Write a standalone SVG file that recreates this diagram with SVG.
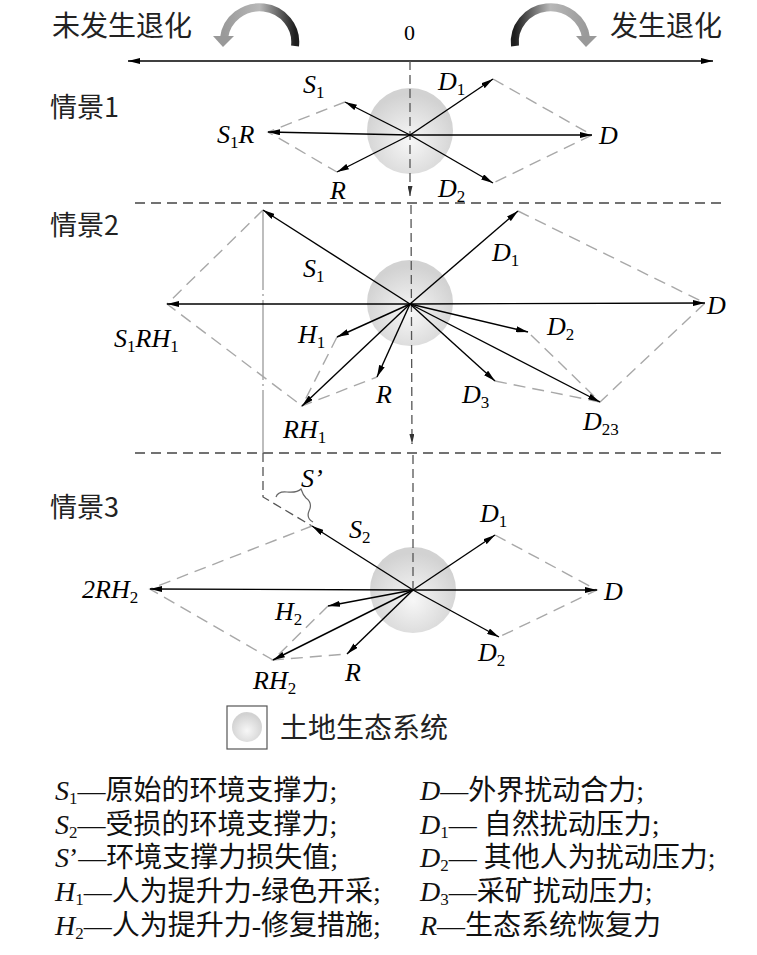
<svg xmlns="http://www.w3.org/2000/svg" width="757" height="955" viewBox="0 0 757 955">
<defs>
<marker id="ah" viewBox="0 0 12 6" refX="12" refY="3" markerWidth="12" markerHeight="6" markerUnits="userSpaceOnUse" orient="auto-start-reverse">
<path d="M0,0 L12,3 L0,6 z" fill="#000"/>
</marker>
<marker id="ahg" viewBox="0 0 12 6" refX="12" refY="3" markerWidth="10" markerHeight="5" markerUnits="userSpaceOnUse" orient="auto">
<path d="M0,0 L12,3 L0,6 z" fill="#333"/>
</marker>
<radialGradient id="ball" cx="50%" cy="62%" r="55%">
<stop offset="0" stop-color="#f7f7f7"/>
<stop offset="1" stop-color="#d2d2d2"/>
</radialGradient>
<linearGradient id="gl" x1="0" y1="0" x2="1" y2="0">
<stop offset="0" stop-color="#9a9a9a"/>
<stop offset="0.5" stop-color="#b8b8b8"/>
<stop offset="1" stop-color="#1e1e1e"/>
</linearGradient>
<linearGradient id="gr" x1="0" y1="0" x2="1" y2="0">
<stop offset="0" stop-color="#1e1e1e"/>
<stop offset="0.5" stop-color="#b8b8b8"/>
<stop offset="1" stop-color="#9a9a9a"/>
</linearGradient>
</defs>
<style>
.v{stroke:#000;stroke-width:1.4;fill:none;marker-end:url(#ah)}
.g{stroke:#a8a8a8;stroke-width:1.4;fill:none;stroke-dasharray:12 7}
.sec{stroke:#444;stroke-width:1.3;fill:none;stroke-dasharray:10 6}
.vd{stroke:#555;stroke-width:1.3;fill:none;stroke-dasharray:9 5}
.cjk{font-family:"Noto Sans CJK SC","Noto Sans",sans-serif;font-size:27px;fill:#222}
.lab{font-family:"Liberation Serif",serif;font-style:italic;font-size:26px;fill:#000}
.sub{font-style:normal;font-size:17px}
.ser{font-family:"Liberation Serif",serif;font-size:22px;fill:#000}
.leg{font-family:"Liberation Serif","Noto Sans CJK SC",serif;font-size:28px;fill:#111}
.ball{fill:url(#ball)}
</style>

<g id="header">
<text class="cjk" x="52" y="36" style="font-size:28px">未发生退化</text>
<text class="ser" x="404" y="40">0</text>
<text class="cjk" x="610" y="36" style="font-size:28px">发生退化</text>
<path d="M295,46 A35,34 0 0 0 224,38" stroke="url(#gl)" stroke-width="8" fill="none"/>
<polygon points="213,36 234,36 223,47" fill="#999"/>
<path d="M515,46 A35,34 0 0 1 586,38" stroke="url(#gr)" stroke-width="8" fill="none"/>
<polygon points="576,36 597,36 586,47" fill="#999"/>
</g>

<g id="sections">
<line class="sec" x1="135" y1="203" x2="725" y2="203"/>
<line class="sec" x1="135" y1="453" x2="725" y2="453"/>
<text class="cjk" x="50" y="117">情景1</text>
<text class="cjk" x="50" y="235">情景2</text>
<text class="cjk" x="50" y="517">情景3</text>
</g>

<g id="systems">
<circle class="ball" cx="410" cy="131" r="43"/>
<circle class="ball" cx="410" cy="303" r="43"/>
<circle class="ball" cx="413" cy="590" r="43"/>
</g>

<g id="connectors">
<line x1="128" y1="61" x2="713" y2="61" stroke="#000" stroke-width="1.4" marker-start="url(#ah)" marker-end="url(#ah)"/>
<line class="vd" x1="410" y1="61" x2="410" y2="196" marker-end="url(#ahg)"/>
<line class="vd" x1="411" y1="205" x2="412" y2="444" marker-end="url(#ahg)"/>
<line class="vd" x1="413" y1="455" x2="413" y2="590"/>
<path class="g" d="M493,79 L592,135 L493,183"/>
<path class="g" d="M345,102 L268,132 L337,172"/>
<line class="v" x1="410" y1="135" x2="493" y2="79"/>
<line class="v" x1="410" y1="135" x2="592" y2="135"/>
<line class="v" x1="410" y1="135" x2="493" y2="183"/>
<line class="v" x1="410" y1="135" x2="345" y2="102"/>
<line class="v" x1="410" y1="135" x2="268" y2="132"/>
<line class="v" x1="410" y1="135" x2="337" y2="172"/>
<line x1="263" y1="210" x2="263" y2="453" stroke="#888" stroke-width="1.1" stroke-dasharray="80 4 2 4"/>
<path class="g" d="M263,210 L167,304 L302,406"/>
<path class="g" d="M337,337 L302,406 L377,377"/>
<path class="g" d="M518,211 L705,303 L600,402 L528,332"/>
<path class="g" d="M495,381 L600,402"/>
<line class="v" x1="410" y1="304" x2="263" y2="210"/>
<line class="v" x1="410" y1="304" x2="167" y2="304"/>
<line class="v" x1="410" y1="304" x2="337" y2="337"/>
<line class="v" x1="410" y1="304" x2="377" y2="377"/>
<line class="v" x1="410" y1="304" x2="302" y2="406"/>
<line class="v" x1="410" y1="304" x2="518" y2="211"/>
<line class="v" x1="410" y1="304" x2="705" y2="303"/>
<line class="v" x1="410" y1="304" x2="528" y2="332"/>
<line class="v" x1="410" y1="304" x2="495" y2="381"/>
<line class="v" x1="410" y1="304" x2="600" y2="402"/>
<path class="vd" d="M263,453 L263,497 L312,526"/>
<path class="g" d="M312,526 L150,589 L273,660"/>
<path class="g" d="M328,606 L273,660 L347,654"/>
<path class="g" d="M495,535 L597,590 L499,637"/>
<line class="v" x1="413" y1="590" x2="312" y2="526"/>
<line class="v" x1="413" y1="590" x2="150" y2="589"/>
<line class="v" x1="413" y1="590" x2="328" y2="606"/>
<line class="v" x1="413" y1="590" x2="273" y2="660"/>
<line class="v" x1="413" y1="590" x2="347" y2="654"/>
<line class="v" x1="413" y1="590" x2="495" y2="535"/>
<line class="v" x1="413" y1="590" x2="597" y2="590"/>
<line class="v" x1="413" y1="590" x2="499" y2="637"/>
<path d="M276,497 Q278,491 287,492 Q297,493 301,489 Q303,495 306,498 Q313,503 309,511 Q306,518 313,522" stroke="#666" stroke-width="1.2" fill="none"/>
</g>

<g id="labels1">
<text class="lab" x="303" y="93">S<tspan class="sub" dy="5">1</tspan></text>
<text class="lab" x="217" y="143">S<tspan class="sub" dy="5">1</tspan><tspan dy="-5">R</tspan></text>
<text class="lab" x="330" y="199">R</text>
<text class="lab" x="438" y="90">D<tspan class="sub" dy="5">1</tspan></text>
<text class="lab" x="599" y="144">D</text>
<text class="lab" x="438" y="197">D<tspan class="sub" dy="5">2</tspan></text>
</g>

<g id="labels2">
<text class="lab" x="303" y="277">S<tspan class="sub" dy="5">1</tspan></text>
<text class="lab" x="114" y="347">S<tspan class="sub" dy="5">1</tspan><tspan dy="-5">RH</tspan><tspan class="sub" dy="5">1</tspan></text>
<text class="lab" x="298" y="343">H<tspan class="sub" dy="5">1</tspan></text>
<text class="lab" x="376" y="403">R</text>
<text class="lab" x="283" y="438">RH<tspan class="sub" dy="5">1</tspan></text>
<text class="lab" x="492" y="261">D<tspan class="sub" dy="5">1</tspan></text>
<text class="lab" x="707" y="314">D</text>
<text class="lab" x="547" y="335">D<tspan class="sub" dy="5">2</tspan></text>
<text class="lab" x="462" y="403">D<tspan class="sub" dy="5">3</tspan></text>
<text class="lab" x="583" y="430">D<tspan class="sub" dy="5">23</tspan></text>
</g>

<g id="labels3">
<text class="lab" x="301" y="487">S’</text>
<text class="lab" x="349" y="538">S<tspan class="sub" dy="5">2</tspan></text>
<text class="lab" x="82" y="598">2RH<tspan class="sub" dy="5">2</tspan></text>
<text class="lab" x="275" y="620">H<tspan class="sub" dy="5">2</tspan></text>
<text class="lab" x="345" y="681">R</text>
<text class="lab" x="253" y="689">RH<tspan class="sub" dy="5">2</tspan></text>
<text class="lab" x="480" y="522">D<tspan class="sub" dy="5">1</tspan></text>
<text class="lab" x="604" y="600">D</text>
<text class="lab" x="478" y="661">D<tspan class="sub" dy="5">2</tspan></text>
</g>

<g id="legend">
<rect x="227" y="706" width="40" height="43" fill="#fff" stroke="#555" stroke-width="1.2"/>
<circle class="ball" cx="247" cy="727" r="15"/>
<text class="cjk" x="280" y="738" style="font-size:28px">土地生态系统</text>
<text class="leg" x="55" y="800"><tspan font-style="italic">S</tspan><tspan font-size="17" dy="4">1</tspan><tspan dy="-4">—原始的环境支撑力;</tspan></text>
<text class="leg" x="55" y="834"><tspan font-style="italic">S</tspan><tspan font-size="17" dy="4">2</tspan><tspan dy="-4">—受损的环境支撑力;</tspan></text>
<text class="leg" x="55" y="867"><tspan font-style="italic">S</tspan>’—环境支撑力损失值;</text>
<text class="leg" x="55" y="901"><tspan font-style="italic">H</tspan><tspan font-size="17" dy="4">1</tspan><tspan dy="-4">—人为提升力-绿色开采;</tspan></text>
<text class="leg" x="55" y="935"><tspan font-style="italic">H</tspan><tspan font-size="17" dy="4">2</tspan><tspan dy="-4">—人为提升力-修复措施;</tspan></text>
<text class="leg" x="420" y="800"><tspan font-style="italic">D</tspan>—外界扰动合力;</text>
<text class="leg" x="420" y="834"><tspan font-style="italic">D</tspan><tspan font-size="17" dy="4">1</tspan><tspan dy="-4">— 自然扰动压力;</tspan></text>
<text class="leg" x="420" y="867"><tspan font-style="italic">D</tspan><tspan font-size="17" dy="4">2</tspan><tspan dy="-4">— 其他人为扰动压力;</tspan></text>
<text class="leg" x="420" y="901"><tspan font-style="italic">D</tspan><tspan font-size="17" dy="4">3</tspan><tspan dy="-4">—采矿扰动压力;</tspan></text>
<text class="leg" x="420" y="935"><tspan font-style="italic">R</tspan>—生态系统恢复力</text>
</g>
</svg>
